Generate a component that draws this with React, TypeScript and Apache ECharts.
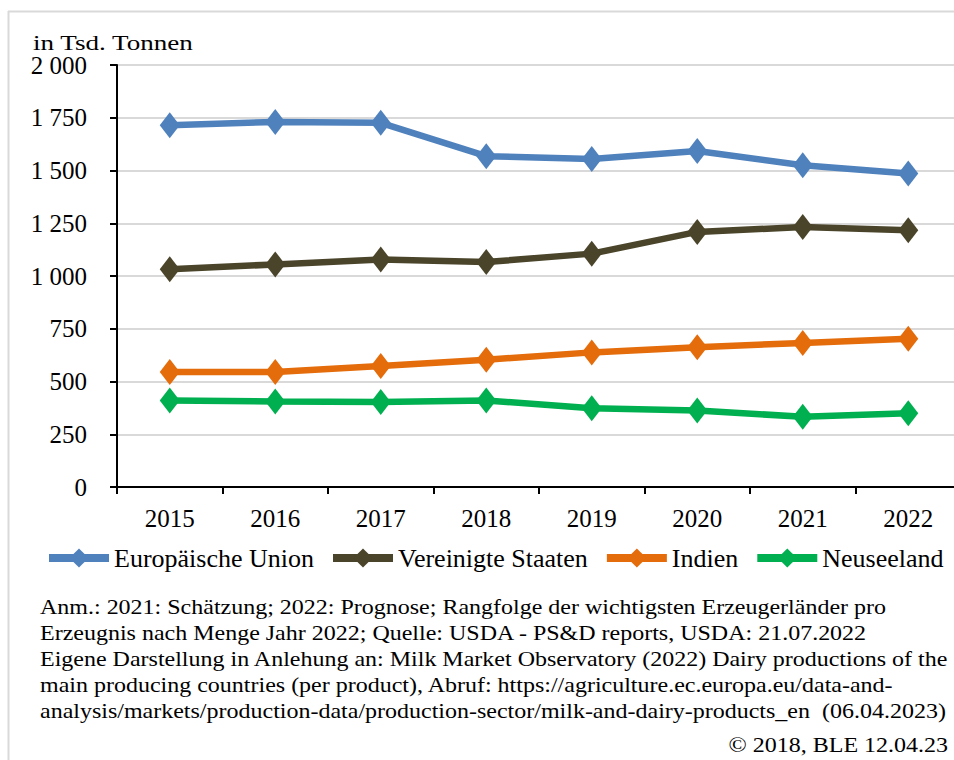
import React, { useEffect, useRef } from "react";
import * as echarts from "echarts";

const years = ["2015", "2016", "2017", "2018", "2019", "2020", "2021", "2022"];
const eu = [1715, 1730, 1726, 1568, 1555, 1592, 1525, 1486];
const us = [1032, 1055, 1078, 1066, 1106, 1209, 1232, 1217];
const india = [545, 545, 573, 603, 638, 662, 683, 703];
const nz = [410, 405, 403, 410, 373, 362, 333, 350];
const seriesNames = ["Europäische Union", "Vereinigte Staaten", "Indien", "Neuseeland"];
const seriesColors = ["#4f81bd", "#4a442a", "#e46c0a", "#00b050"];
const yTicks = [0, 250, 500, 750, 1000, 1250, 1500, 1750, 2000];
const unitLabel = "in Tsd. Tonnen";
const noteLines = [
  "Anm.: 2021: Schätzung; 2022: Prognose; Rangfolge der wichtigsten Erzeugerländer pro",
  "Erzeugnis nach Menge Jahr 2022; Quelle: USDA - PS&D reports, USDA: 21.07.2022",
  "Eigene Darstellung in Anlehung an: Milk Market Observatory (2022) Dairy productions of the",
  "main producing countries (per product), Abruf: https://agriculture.ec.europa.eu/data-and-",
  "analysis/markets/production-data/production-sector/milk-and-dairy-products_en  (06.04.2023)",
];
const copyright = "© 2018, BLE 12.04.23";

const FONT = "Liberation Serif";

function fmt(v: number): string {
  const s = String(v);
  if (s.length > 3) return s.slice(0, s.length - 3) + " " + s.slice(s.length - 3);
  return s;
}

export default function App() {
  const ref = useRef<HTMLDivElement>(null);
  useEffect(() => {
    if (!ref.current) return;
    const chart = echarts.init(ref.current, null, { renderer: "svg" });
    const data = [eu, us, india, nz];
    const graphics: any[] = [
      { type: "line", shape: { x1: 8.5, y1: 11, x2: 8.5, y2: 760 }, style: { stroke: "#d9d9d9", lineWidth: 2 } },
      { type: "line", shape: { x1: 8, y1: 11.5, x2: 962, y2: 11.5 }, style: { stroke: "#d9d9d9", lineWidth: 2 } },
      {
        type: "text", x: 33, y: 42, scaleX: 1.23,
        style: { text: unitLabel, fontFamily: FONT, fontSize: 22, fill: "#000", textVerticalAlign: "middle" },
      },
    ];
    noteLines.forEach((t, i) => {
      graphics.push({
        type: "text", x: 40, y: 607 + i * 26, scaleX: 1.2,
        style: { text: t, fontFamily: FONT, fontSize: 20, fill: "#000", textVerticalAlign: "middle" },
      });
    });
    graphics.push({
      type: "text", x: 948, y: 745, scaleX: 1.2,
      style: { text: copyright, fontFamily: FONT, fontSize: 20, fill: "#000", textAlign: "right", textVerticalAlign: "middle" },
    });
    chart.setOption({
      animation: false,
      backgroundColor: "#fff",
      textStyle: { fontFamily: FONT },
      grid: { left: 117, top: 65, right: 1, bottom: 273, containLabel: false },
      legend: {
        left: 45, top: 545, padding: 0,
        itemWidth: 60, itemHeight: 24, itemGap: 15,
        lineStyle: { width: 8 },
        textStyle: { fontFamily: FONT, fontSize: 26, color: "#000" },
        data: seriesNames,
      },
      xAxis: {
        type: "category",
        data: years,
        boundaryGap: true,
        axisLine: { lineStyle: { color: "#000", width: 2 } },
        axisTick: { show: true, length: 7, lineStyle: { color: "#000", width: 2 } },
        axisLabel: { color: "#000", fontSize: 25, fontFamily: FONT, margin: 19 },
        splitLine: { show: false },
      },
      yAxis: {
        type: "value",
        min: 0, max: 2000, interval: 250,
        axisLine: { show: true, lineStyle: { color: "#000", width: 2 } },
        axisTick: { show: true, length: 7, lineStyle: { color: "#000", width: 2 } },
        axisLabel: {
          color: "#000", fontSize: 25, fontFamily: FONT, margin: 30,
          formatter: (v: number) => (yTicks.includes(v) ? fmt(v) : ""),
        },
        splitLine: { show: true, lineStyle: { color: "#d9d9d9", width: 2 } },
      },
      series: seriesNames.map((name, i) => ({
        name,
        type: "line",
        data: data[i],
        color: seriesColors[i],
        symbol: "diamond",
        symbolSize: [20, 26],
        showAllSymbol: true,
        lineStyle: { width: 6.5, color: seriesColors[i] },
        itemStyle: { color: seriesColors[i] },
        z: 10 - i,
      })),
      graphic: graphics,
    });
    return () => chart.dispose();
  }, []);
  return (
    <div style={{ position: "fixed", left: 0, top: 0, width: 954, height: 760, overflow: "hidden", background: "#fff" }}>
      <div ref={ref} style={{ width: 962, height: 760 }} />
    </div>
  );
}
